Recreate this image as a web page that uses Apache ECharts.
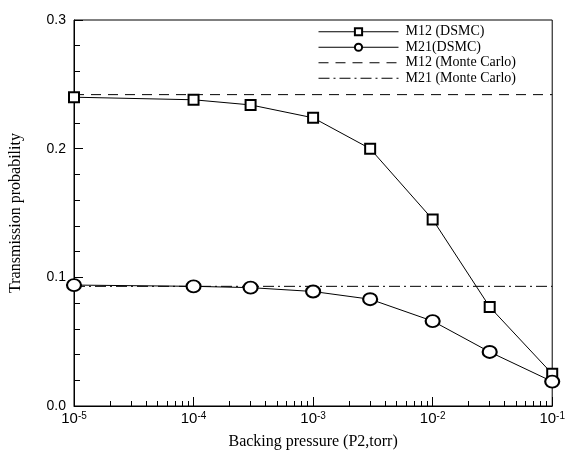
<!DOCTYPE html>
<html>
<head>
<meta charset="utf-8">
<script src="https://cdn.jsdelivr.net/npm/echarts@6/dist/echarts.min.js"></script>
<style>
  html, body { margin: 0; padding: 0; background: #fff; }
  #chart { width: 568px; height: 455px; }
</style>
</head>
<body>
<div id="chart"></div>
<script>
// backing pressure P2 (torr)
var pressure = [1e-5, 1e-4, 3e-4, 1e-3, 3e-3, 1e-2, 3e-2, 1e-1]
// transmission probability, DSMC
var m12Dsmc = [0.240, 0.238, 0.234, 0.224, 0.200, 0.145, 0.077, 0.025]
var m21Dsmc = [0.094, 0.093, 0.092, 0.089, 0.083, 0.066, 0.042, 0.019]
// Monte Carlo reference levels
var m12Mc = 0.242
var m21Mc = 0.093
var xRange = [1e-5, 1e-1]
var yTicks = [0, 0.1, 0.2, 0.3]

// minor ticks 2..9 in each decade
var minorTicks = []
for (var d = -5; d < -1; d++) {
  for (var k = 2; k <= 9; k++) {
    minorTicks.push(+(k * Math.pow(10, d)).toPrecision(3))
  }
}

var pair = function(xs, ys) {
  return xs.map(function(x, i) { return [x, ys[i]] })
}

var chart = echarts.init(document.getElementById('chart'))
var serif = 'Liberation Serif'
var sans = 'Liberation Sans'
var hidden = { color: 'transparent', borderColor: 'transparent', borderWidth: 0 }

chart.setOption({
  animation: false,
  backgroundColor: '#fff',
  grid: {
    left: 71, right: 11, top: 20, bottom: 49,
    show: true, borderColor: '#000', borderWidth: 1
  },
  legend: {
    orient: 'vertical',
    left: 318,
    top: 24,
    padding: 0,
    itemWidth: 80,
    itemHeight: 9,
    itemGap: 0,
    lineStyle: { width: 1 },
    itemStyle: { borderWidth: 1 },
    textStyle: { fontFamily: serif, fontSize: 14, lineHeight: 15.5, color: '#000', padding: [0, 0, 0, 2] },
    data: [
      { name: 'M12 (DSMC)' },
      { name: 'M21(DSMC)' },
      { name: 'M12 (Monte Carlo)', itemStyle: hidden },
      { name: 'M21 (Monte Carlo)', itemStyle: hidden }
    ]
  },
  xAxis: [{
    type: 'log',
    logBase: 10,
    min: xRange[0],
    max: xRange[1],
    name: 'Backing pressure (P2,torr)',
    nameLocation: 'middle',
    nameGap: 28,
    nameTextStyle: { fontFamily: serif, fontSize: 16, color: '#000' },
    axisLine: { lineStyle: { color: '#000', width: 1 } },
    axisTick: { inside: true, length: 9, lineStyle: { color: '#000' } },
    splitLine: { show: false },
    axisLabel: {
      margin: 5,
      formatter: function(v) {
        var e = Math.round(Math.log10(v))
        return '{b|10}{s|' + e + '}'
      },
      rich: {
        b: { fontFamily: sans, fontSize: 15, color: '#000' },
        s: { fontFamily: sans, fontSize: 10, color: '#000', verticalAlign: 'top', lineHeight: 10 }
      }
    }
  }, {
    type: 'log',
    logBase: 10,
    min: xRange[0],
    max: xRange[1],
    position: 'bottom',
    axisLine: { show: false },
    axisLabel: { show: false },
    splitLine: { show: false },
    axisTick: { inside: true, length: 5, customValues: minorTicks, lineStyle: { color: '#000' } }
  }],
  yAxis: {
    type: 'value',
    min: yTicks[0],
    max: yTicks[yTicks.length - 1],
    interval: 0.1,
    name: 'Transmission probability',
    nameLocation: 'middle',
    nameGap: 50,
    nameTextStyle: { fontFamily: serif, fontSize: 16, color: '#000' },
    axisLine: { show: true, lineStyle: { color: '#000', width: 1 } },
    axisTick: { show: true, inside: true, length: 9, lineStyle: { color: '#000' } },
    minorTick: { show: true, splitNumber: 5, length: 6, lineStyle: { color: '#000' } },
    splitLine: { show: false },
    axisLabel: {
      margin: 8,
      fontFamily: sans, fontSize: 14, color: '#000',
      formatter: function(v) { return v.toFixed(1) }
    }
  },
  series: [{
    name: 'M12 (DSMC)',
    type: 'line',
    data: pair(pressure, m12Dsmc),
    symbol: 'emptyRect',
    symbolSize: 10,
    itemStyle: { color: '#000', borderColor: '#000', borderWidth: 1 },
    lineStyle: { color: '#000', width: 1 }
  }, {
    name: 'M21(DSMC)',
    type: 'line',
    data: pair(pressure, m21Dsmc),
    symbol: 'emptyCircle',
    symbolSize: [14, 12],
    itemStyle: { color: '#000', borderColor: '#000', borderWidth: 1 },
    lineStyle: { color: '#000', width: 1 }
  }, {
    name: 'M12 (Monte Carlo)',
    type: 'line',
    data: pair(xRange, [m12Mc, m12Mc]),
    symbol: 'none',
    itemStyle: { color: '#000' },
    lineStyle: { color: '#000', width: 1, type: [10, 7] }
  }, {
    name: 'M21 (Monte Carlo)',
    type: 'line',
    data: pair(xRange, [m21Mc, m21Mc]),
    symbol: 'none',
    itemStyle: { color: '#000' },
    lineStyle: { color: '#000', width: 1, type: [11, 4, 2, 4] }
  }]
})
</script>
</body>
</html>
